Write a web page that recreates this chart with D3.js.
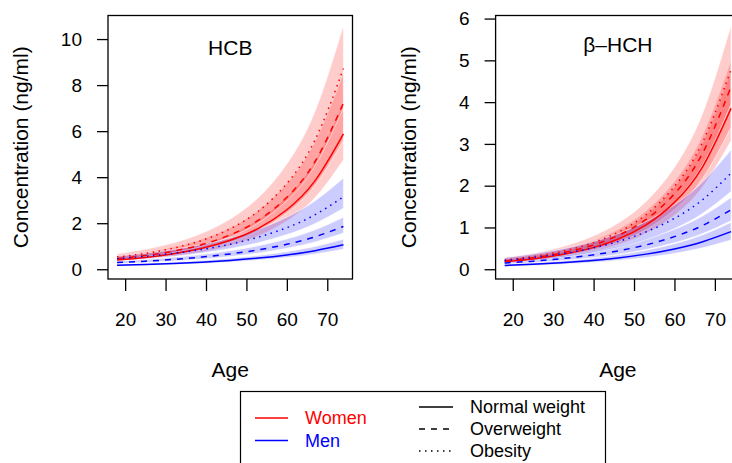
<!DOCTYPE html>
<html>
<head>
<meta charset="utf-8">
<script src="https://cdn.jsdelivr.net/npm/d3@7"></script>
<style>
  body { margin: 0; background: #fff; }
  svg { display: block; font-family: "Liberation Sans", Arial, Helvetica, sans-serif; }
</style>
</head>
<body>
<div id="chart"></div>
<script>
const ages = [18, 25, 32, 39, 46, 53, 60, 67, 74];
const ageTicks = [20, 30, 40, 50, 60, 70];

/* HCB, women */
const hcbWomenNormalFit = [0.40, 0.513, 0.674, 0.909, 1.256, 1.779, 2.586, 3.851, 5.88];
const hcbWomenNormalLo  = [0.33, 0.422, 0.553, 0.744, 1.025, 1.449, 2.099, 3.117, 4.75];
const hcbWomenNormalHi  = [0.48, 0.617, 0.813, 1.099, 1.523, 2.162, 3.150, 4.700, 7.20];
const hcbWomenOverFit   = [0.46, 0.595, 0.789, 1.071, 1.493, 2.132, 3.125, 4.690, 7.22];
const hcbWomenOverLo    = [0.37, 0.476, 0.628, 0.850, 1.179, 1.676, 2.445, 3.654, 5.60];
const hcbWomenOverHi    = [0.57, 0.732, 0.964, 1.301, 1.802, 2.558, 3.724, 5.555, 8.50];
const hcbWomenObeseFit  = [0.53, 0.689, 0.919, 1.256, 1.760, 2.529, 3.726, 5.627, 8.72];
const hcbWomenObeseLo   = [0.42, 0.547, 0.730, 1.000, 1.404, 2.020, 2.983, 4.509, 7.00];
const hcbWomenObeseHi   = [0.67, 0.867, 1.150, 1.564, 2.182, 3.119, 4.575, 6.874, 10.6];

/* HCB, men */
const hcbMenNormalFit = [0.17, 0.205, 0.249, 0.308, 0.384, 0.486, 0.622, 0.807, 1.06];
const hcbMenNormalLo  = [0.14, 0.168, 0.205, 0.253, 0.316, 0.399, 0.511, 0.662, 0.87];
const hcbMenNormalHi  = [0.21, 0.252, 0.307, 0.379, 0.473, 0.597, 0.764, 0.990, 1.30];
const hcbMenOverFit   = [0.29, 0.350, 0.428, 0.530, 0.665, 0.844, 1.084, 1.411, 1.86];
const hcbMenOverLo    = [0.24, 0.291, 0.356, 0.442, 0.555, 0.707, 0.911, 1.188, 1.57];
const hcbMenOverHi    = [0.35, 0.423, 0.518, 0.641, 0.805, 1.023, 1.315, 1.713, 2.26];
const hcbMenObeseFit  = [0.46, 0.560, 0.691, 0.862, 1.089, 1.395, 1.807, 2.370, 3.15];
const hcbMenObeseLo   = [0.37, 0.453, 0.562, 0.705, 0.896, 1.154, 1.504, 1.983, 2.65];
const hcbMenObeseHi   = [0.57, 0.695, 0.859, 1.074, 1.359, 1.744, 2.263, 2.973, 3.96];

/* beta-HCH, women */
const hchWomenNormalFit = [0.18, 0.247, 0.346, 0.493, 0.717, 1.061, 1.600, 2.458, 3.85];
const hchWomenNormalLo  = [0.15, 0.205, 0.285, 0.405, 0.585, 0.862, 1.293, 1.976, 3.08];
const hchWomenNormalHi  = [0.22, 0.302, 0.424, 0.605, 0.880, 1.304, 1.968, 3.029, 4.75];
const hchWomenOverFit   = [0.20, 0.275, 0.386, 0.552, 0.805, 1.194, 1.805, 2.783, 4.37];
const hchWomenOverLo    = [0.165, 0.226, 0.314, 0.446, 0.645, 0.950, 1.427, 2.182, 3.40];
const hchWomenOverHi    = [0.245, 0.335, 0.465, 0.660, 0.953, 1.402, 2.102, 3.212, 5.00];
const hchWomenObeseFit  = [0.22, 0.303, 0.424, 0.606, 0.883, 1.309, 1.980, 3.047, 4.78];
const hchWomenObeseLo   = [0.175, 0.242, 0.341, 0.489, 0.716, 1.067, 1.620, 2.506, 3.95];
const hchWomenObeseHi   = [0.28, 0.383, 0.535, 0.760, 1.101, 1.624, 2.443, 3.742, 5.84];

/* beta-HCH, men */
const hchMenNormalFit = [0.09, 0.117, 0.154, 0.204, 0.271, 0.362, 0.487, 0.660, 0.90];
const hchMenNormalLo  = [0.07, 0.091, 0.120, 0.158, 0.211, 0.282, 0.379, 0.513, 0.70];
const hchMenNormalHi  = [0.115, 0.150, 0.196, 0.258, 0.341, 0.455, 0.610, 0.824, 1.12];
const hchMenOverFit   = [0.15, 0.194, 0.253, 0.332, 0.439, 0.583, 0.780, 1.049, 1.42];
const hchMenOverLo    = [0.12, 0.156, 0.204, 0.268, 0.355, 0.473, 0.634, 0.855, 1.16];
const hchMenOverHi    = [0.19, 0.245, 0.318, 0.414, 0.544, 0.718, 0.955, 1.277, 1.72];
const hchMenObeseFit  = [0.21, 0.277, 0.368, 0.492, 0.661, 0.895, 1.218, 1.668, 2.30];
const hchMenObeseLo   = [0.16, 0.213, 0.284, 0.383, 0.519, 0.707, 0.970, 1.339, 1.86];
const hchMenObeseHi   = [0.28, 0.366, 0.482, 0.638, 0.851, 1.142, 1.541, 2.092, 2.86];

const hcbTicks = [0, 2, 4, 6, 8, 10];
const hchTicks = [0, 1, 2, 3, 4, 5, 6];

const sexLabels = ['Women', 'Men'];
const bmiLabels = ['Normal weight', 'Overweight', 'Obesity'];

/* styles */
const sexColor = { women: '#ff0000', men: '#0000ff' };
const sexFill = { women: 'rgba(255,0,0,0.2)', men: 'rgba(0,0,255,0.2)' };
const bmiDash = { normal: null, over: '6,6', obese: '1.5,4.5' };

const panels = [
  {
    title: 'HCB', ticks: hcbTicks, left: 108, titleY: 55,
    series: [
      { sex: 'women', bmi: 'normal', fit: hcbWomenNormalFit, lo: hcbWomenNormalLo, hi: hcbWomenNormalHi },
      { sex: 'women', bmi: 'over',   fit: hcbWomenOverFit,   lo: hcbWomenOverLo,   hi: hcbWomenOverHi },
      { sex: 'women', bmi: 'obese',  fit: hcbWomenObeseFit,  lo: hcbWomenObeseLo,  hi: hcbWomenObeseHi },
      { sex: 'men',   bmi: 'normal', fit: hcbMenNormalFit,   lo: hcbMenNormalLo,   hi: hcbMenNormalHi },
      { sex: 'men',   bmi: 'over',   fit: hcbMenOverFit,     lo: hcbMenOverLo,     hi: hcbMenOverHi },
      { sex: 'men',   bmi: 'obese',  fit: hcbMenObeseFit,    lo: hcbMenObeseLo,    hi: hcbMenObeseHi }
    ]
  },
  {
    title: 'β–HCH', ticks: hchTicks, left: 495.6, titleY: 52,
    series: [
      { sex: 'women', bmi: 'normal', fit: hchWomenNormalFit, lo: hchWomenNormalLo, hi: hchWomenNormalHi },
      { sex: 'women', bmi: 'over',   fit: hchWomenOverFit,   lo: hchWomenOverLo,   hi: hchWomenOverHi },
      { sex: 'women', bmi: 'obese',  fit: hchWomenObeseFit,  lo: hchWomenObeseLo,  hi: hchWomenObeseHi },
      { sex: 'men',   bmi: 'normal', fit: hchMenNormalFit,   lo: hchMenNormalLo,   hi: hchMenNormalHi },
      { sex: 'men',   bmi: 'over',   fit: hchMenOverFit,     lo: hchMenOverLo,     hi: hchMenOverHi },
      { sex: 'men',   bmi: 'obese',  fit: hchMenObeseFit,    lo: hchMenObeseLo,    hi: hchMenObeseHi }
    ]
  }
];

const W = 732, H = 463;
const plotW = 244.5, plotTop = 15.5, plotBottom = 279;

const svg = d3.select('#chart').append('svg')
  .attr('width', W)
  .attr('height', H);

/* R-like 4% extension of the ranges */
function extend([a, b]) {
  const d = (b - a) * 0.04;
  return [a - d, b + d];
}

panels.forEach(p => {
  const x = d3.scaleLinear()
    .domain(extend(d3.extent(ages)))
    .range([p.left, p.left + plotW]);
  const yMax = d3.max(p.series, s => d3.max(s.hi));
  const y = d3.scaleLinear()
    .domain(extend([0, yMax]))
    .range([plotBottom, plotTop]);

  const g = svg.append('g');

  const area = d3.area()
    .x((d, i) => x(ages[i]))
    .curve(d3.curveNatural);
  const line = d3.line()
    .x((d, i) => x(ages[i]))
    .y(d => y(d))
    .curve(d3.curveNatural);

  /* confidence bands */
  p.series.forEach(s => {
    g.append('path')
      .datum(s.fit)
      .attr('d', area.y0((d, i) => y(s.lo[i])).y1((d, i) => y(s.hi[i])))
      .attr('fill', sexFill[s.sex])
      .attr('stroke', '#fff')
      .attr('stroke-opacity', 0.7)
      .attr('stroke-width', 0.8);
  });

  /* fitted curves */
  p.series.forEach(s => {
    g.append('path')
      .datum(s.fit)
      .attr('d', line)
      .attr('fill', 'none')
      .attr('stroke', sexColor[s.sex])
      .attr('stroke-width', 1.5)
      .attr('stroke-dasharray', bmiDash[s.bmi]);
  });

  /* box */
  g.append('rect')
    .attr('x', p.left)
    .attr('y', plotTop)
    .attr('width', plotW)
    .attr('height', plotBottom - plotTop)
    .attr('fill', 'none')
    .attr('stroke', '#000')
    .attr('stroke-width', 1.3);

  /* y axis */
  const yAxis = g.append('g')
    .attr('transform', `translate(${p.left},0)`)
    .call(d3.axisLeft(y).tickValues(p.ticks).tickFormat(d3.format('d')).tickSize(11).tickPadding(15));
  yAxis.select('.domain').remove();
  yAxis.selectAll('.tick line').attr('stroke', '#000').attr('stroke-width', 1.3);
  yAxis.selectAll('.tick text').attr('fill', '#000').style('font-size', '19px');
  yAxis.attr('font-family', null);

  /* x axis */
  const xAxis = g.append('g')
    .attr('transform', `translate(0,${plotBottom})`)
    .call(d3.axisBottom(x).tickValues(ageTicks).tickFormat(d3.format('d')).tickSize(12).tickPadding(22));
  xAxis.select('.domain').remove();
  xAxis.selectAll('.tick line').attr('stroke', '#000').attr('stroke-width', 1.3);
  xAxis.selectAll('.tick text').attr('fill', '#000').style('font-size', '19px');
  xAxis.attr('font-family', null);

  const cx = p.left + plotW / 2;

  /* titles and labels */
  g.append('text')
    .attr('x', cx)
    .attr('y', p.titleY)
    .attr('text-anchor', 'middle')
    .style('font-size', '21px')
    .text(p.title);

  g.append('text')
    .attr('x', cx)
    .attr('y', 377)
    .attr('text-anchor', 'middle')
    .style('font-size', '21px')
    .text('Age');

  g.append('text')
    .attr('transform', `translate(${p.left - 80},${(plotTop + plotBottom) / 2}) rotate(-90)`)
    .attr('text-anchor', 'middle')
    .style('font-size', '21px')
    .text('Concentration (ng/ml)');
});

/* legend */
const legend = svg.append('g');
legend.append('rect')
  .attr('x', 240.5).attr('y', 391.5)
  .attr('width', 365).attr('height', 120)
  .attr('fill', '#fff')
  .attr('stroke', '#000')
  .attr('stroke-width', 1.2);

const sexKeys = ['women', 'men'];
sexLabels.forEach((lab, i) => {
  const yy = 418 + i * 22.5;
  legend.append('line')
    .attr('x1', 255).attr('x2', 288).attr('y1', yy).attr('y2', yy)
    .attr('stroke', sexColor[sexKeys[i]]).attr('stroke-width', 1.5);
  legend.append('text')
    .attr('x', 305).attr('y', yy)
    .attr('dy', '0.35em')
    .attr('fill', sexColor[sexKeys[i]])
    .style('font-size', '18px')
    .text(lab);
});

const bmiKeys = ['normal', 'over', 'obese'];
bmiLabels.forEach((lab, i) => {
  const yy = 407 + i * 22;
  legend.append('line')
    .attr('x1', 419).attr('x2', 453).attr('y1', yy).attr('y2', yy)
    .attr('stroke', '#000').attr('stroke-width', 1.5)
    .attr('stroke-dasharray', bmiDash[bmiKeys[i]]);
  legend.append('text')
    .attr('x', 470).attr('y', yy)
    .attr('dy', '0.35em')
    .attr('fill', '#000')
    .style('font-size', '18px')
    .text(lab);
});
</script>
</body>
</html>
